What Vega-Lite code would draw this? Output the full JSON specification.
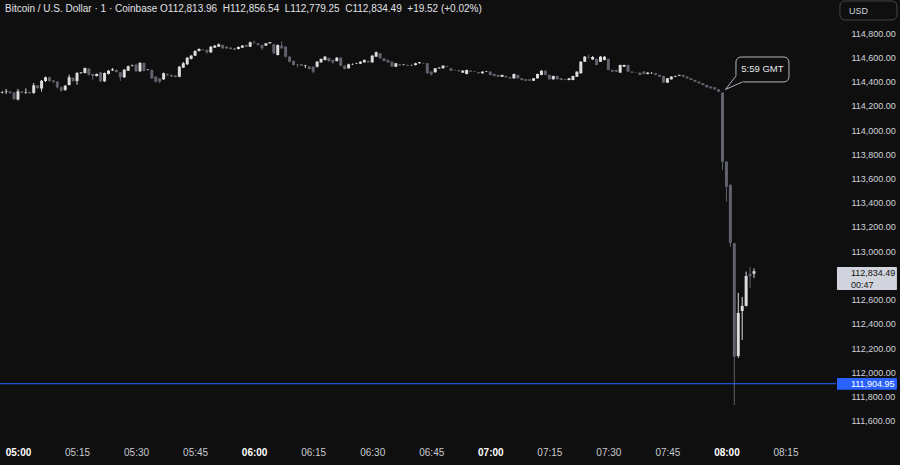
{
"$schema":"https://vega.github.io/schema/vega-lite/v6.json",
"width":836,"height":440,
"autosize":{"type":"none"},
"padding":{"left":0,"top":0,"right":64,"bottom":25},
"background":"#0f0f0f",
"config":{"view":{"stroke":null},"font":"Liberation Sans","scale":{"continuousPadding":0}},
"title":{"text":"Bitcoin / U.S. Dollar · 1 · Coinbase\u00a0O112,813.96\u00a0\u00a0H112,856.54\u00a0\u00a0L112,779.25\u00a0\u00a0C112,834.49\u00a0\u00a0+19.52 (+0.02%)","anchor":"start","frame":"group","orient":"top","offset":-14,"dx":5,"fontSize":10,"fontWeight":"normal","color":"#e0e2e8","font":"Liberation Sans"},
"data":{"values":[
{"time":"04:56","o":114311,"h":114323,"l":114303,"c":114315},
{"time":"04:57","o":114315,"h":114340,"l":114299,"c":114319},
{"time":"04:58","o":114319,"h":114323,"l":114299,"c":114307},
{"time":"04:59","o":114311,"h":114315,"l":114249,"c":114257},
{"time":"05:00","o":114253,"h":114340,"l":114245,"c":114321},
{"time":"05:01","o":114319,"h":114323,"l":114303,"c":114311},
{"time":"05:02","o":114311,"h":114344,"l":114299,"c":114315},
{"time":"05:03","o":114315,"h":114319,"l":114299,"c":114307},
{"time":"05:04","o":114307,"h":114389,"l":114299,"c":114370},
{"time":"05:05","o":114369,"h":114373,"l":114340,"c":114348},
{"time":"05:06","o":114344,"h":114414,"l":114319,"c":114408},
{"time":"05:07","o":114406,"h":114443,"l":114398,"c":114437},
{"time":"05:08","o":114437,"h":114441,"l":114398,"c":114406},
{"time":"05:09","o":114410,"h":114414,"l":114389,"c":114398},
{"time":"05:10","o":114400,"h":114406,"l":114344,"c":114354},
{"time":"05:11","o":114354,"h":114361,"l":114319,"c":114326},
{"time":"05:12","o":114332,"h":114373,"l":114323,"c":114367},
{"time":"05:13","o":114373,"h":114458,"l":114369,"c":114437},
{"time":"05:14","o":114432,"h":114439,"l":114398,"c":114406},
{"time":"05:15","o":114406,"h":114480,"l":114375,"c":114472},
{"time":"05:16","o":114472,"h":114480,"l":114464,"c":114476},
{"time":"05:17","o":114472,"h":114517,"l":114468,"c":114513},
{"time":"05:18","o":114508,"h":114513,"l":114451,"c":114458},
{"time":"05:19","o":114464,"h":114468,"l":114417,"c":114447},
{"time":"05:20","o":114447,"h":114468,"l":114443,"c":114464},
{"time":"05:21","o":114478,"h":114480,"l":114398,"c":114403},
{"time":"05:22","o":114403,"h":114476,"l":114398,"c":114472},
{"time":"05:23","o":114464,"h":114497,"l":114460,"c":114491},
{"time":"05:24","o":114493,"h":114513,"l":114489,"c":114501},
{"time":"05:25","o":114497,"h":114501,"l":114476,"c":114480},
{"time":"05:26","o":114478,"h":114480,"l":114406,"c":114437},
{"time":"05:27","o":114437,"h":114505,"l":114431,"c":114499},
{"time":"05:28","o":114491,"h":114534,"l":114489,"c":114527},
{"time":"05:29","o":114530,"h":114542,"l":114526,"c":114534},
{"time":"05:30","o":114541,"h":114551,"l":114480,"c":114486},
{"time":"05:31","o":114486,"h":114563,"l":114480,"c":114555},
{"time":"05:32","o":114555,"h":114559,"l":114484,"c":114491},
{"time":"05:33","o":114497,"h":114505,"l":114493,"c":114499},
{"time":"05:34","o":114497,"h":114501,"l":114422,"c":114428},
{"time":"05:35","o":114441,"h":114447,"l":114394,"c":114400},
{"time":"05:36","o":114428,"h":114431,"l":114387,"c":114400},
{"time":"05:37","o":114420,"h":114476,"l":114414,"c":114470},
{"time":"05:38","o":114461,"h":114468,"l":114447,"c":114453},
{"time":"05:39","o":114455,"h":114460,"l":114439,"c":114443},
{"time":"05:40","o":114450,"h":114455,"l":114435,"c":114439},
{"time":"05:41","o":114441,"h":114530,"l":114437,"c":114524},
{"time":"05:42","o":114516,"h":114563,"l":114513,"c":114552},
{"time":"05:43","o":114544,"h":114604,"l":114538,"c":114598},
{"time":"05:44","o":114588,"h":114621,"l":114584,"c":114615},
{"time":"05:45","o":114615,"h":114658,"l":114612,"c":114654},
{"time":"05:46","o":114654,"h":114676,"l":114650,"c":114670},
{"time":"05:47","o":114666,"h":114670,"l":114658,"c":114662},
{"time":"05:48","o":114662,"h":114666,"l":114631,"c":114643},
{"time":"05:49","o":114643,"h":114695,"l":114637,"c":114689},
{"time":"05:50","o":114681,"h":114703,"l":114679,"c":114698},
{"time":"05:51","o":114689,"h":114716,"l":114687,"c":114709},
{"time":"05:52","o":114703,"h":114707,"l":114670,"c":114676},
{"time":"05:53","o":114689,"h":114695,"l":114670,"c":114676},
{"time":"05:54","o":114681,"h":114687,"l":114666,"c":114670},
{"time":"05:55","o":114676,"h":114679,"l":114660,"c":114664},
{"time":"05:56","o":114670,"h":114691,"l":114666,"c":114687},
{"time":"05:57","o":114681,"h":114703,"l":114679,"c":114698},
{"time":"05:58","o":114703,"h":114707,"l":114687,"c":114689},
{"time":"05:59","o":114689,"h":114731,"l":114687,"c":114726},
{"time":"06:00","o":114724,"h":114740,"l":114712,"c":114720},
{"time":"06:01","o":114717,"h":114720,"l":114699,"c":114703},
{"time":"06:02","o":114703,"h":114707,"l":114662,"c":114676},
{"time":"06:03","o":114698,"h":114720,"l":114695,"c":114717},
{"time":"06:04","o":114717,"h":114728,"l":114716,"c":114726},
{"time":"06:05","o":114709,"h":114712,"l":114629,"c":114635},
{"time":"06:06","o":114621,"h":114707,"l":114617,"c":114703},
{"time":"06:07","o":114698,"h":114736,"l":114670,"c":114676},
{"time":"06:08","o":114689,"h":114695,"l":114600,"c":114607},
{"time":"06:09","o":114607,"h":114612,"l":114560,"c":114565},
{"time":"06:10","o":114571,"h":114575,"l":114534,"c":114538},
{"time":"06:11","o":114541,"h":114546,"l":114517,"c":114536},
{"time":"06:12","o":114544,"h":114548,"l":114530,"c":114532},
{"time":"06:13","o":114534,"h":114540,"l":114513,"c":114538},
{"time":"06:14","o":114524,"h":114530,"l":114501,"c":114505},
{"time":"06:15","o":114524,"h":114526,"l":114470,"c":114483},
{"time":"06:16","o":114524,"h":114571,"l":114517,"c":114565},
{"time":"06:17","o":114560,"h":114592,"l":114557,"c":114588},
{"time":"06:18","o":114579,"h":114612,"l":114575,"c":114607},
{"time":"06:19","o":114596,"h":114600,"l":114565,"c":114569},
{"time":"06:20","o":114579,"h":114584,"l":114544,"c":114560},
{"time":"06:21","o":114571,"h":114604,"l":114567,"c":114598},
{"time":"06:22","o":114598,"h":114604,"l":114527,"c":114532},
{"time":"06:23","o":114532,"h":114536,"l":114501,"c":114505},
{"time":"06:24","o":114511,"h":114549,"l":114508,"c":114544},
{"time":"06:25","o":114544,"h":114551,"l":114538,"c":114546},
{"time":"06:26","o":114549,"h":114556,"l":114546,"c":114552},
{"time":"06:27","o":114549,"h":114569,"l":114546,"c":114565},
{"time":"06:28","o":114560,"h":114584,"l":114557,"c":114579},
{"time":"06:29","o":114571,"h":114574,"l":114557,"c":114560},
{"time":"06:30","o":114560,"h":114621,"l":114557,"c":114615},
{"time":"06:31","o":114607,"h":114650,"l":114604,"c":114643},
{"time":"06:32","o":114635,"h":114637,"l":114590,"c":114593},
{"time":"06:33","o":114593,"h":114596,"l":114567,"c":114571},
{"time":"06:34","o":114579,"h":114584,"l":114557,"c":114560},
{"time":"06:35","o":114565,"h":114569,"l":114522,"c":114524},
{"time":"06:36","o":114524,"h":114555,"l":114522,"c":114552},
{"time":"06:37","o":114544,"h":114546,"l":114532,"c":114536},
{"time":"06:38","o":114538,"h":114544,"l":114534,"c":114541},
{"time":"06:39","o":114538,"h":114541,"l":114530,"c":114532},
{"time":"06:40","o":114536,"h":114541,"l":114532,"c":114538},
{"time":"06:41","o":114538,"h":114556,"l":114534,"c":114552},
{"time":"06:42","o":114552,"h":114563,"l":114549,"c":114560},
{"time":"06:43","o":114555,"h":114557,"l":114549,"c":114552},
{"time":"06:44","o":114552,"h":114555,"l":114464,"c":114470},
{"time":"06:45","o":114483,"h":114486,"l":114450,"c":114461},
{"time":"06:46","o":114478,"h":114513,"l":114475,"c":114511},
{"time":"06:47","o":114511,"h":114519,"l":114505,"c":114516},
{"time":"06:48","o":114511,"h":114536,"l":114508,"c":114532},
{"time":"06:49","o":114530,"h":114534,"l":114522,"c":114524},
{"time":"06:50","o":114511,"h":114513,"l":114489,"c":114491},
{"time":"06:51","o":114497,"h":114499,"l":114491,"c":114494},
{"time":"06:52","o":114494,"h":114497,"l":114483,"c":114486},
{"time":"06:53","o":114475,"h":114494,"l":114472,"c":114491},
{"time":"06:54","o":114464,"h":114499,"l":114461,"c":114497},
{"time":"06:55","o":114491,"h":114494,"l":114480,"c":114483},
{"time":"06:56","o":114486,"h":114489,"l":114480,"c":114483},
{"time":"06:57","o":114478,"h":114480,"l":114466,"c":114470},
{"time":"06:58","o":114470,"h":114486,"l":114466,"c":114483},
{"time":"06:59","o":114483,"h":114489,"l":114480,"c":114486},
{"time":"07:00","o":114483,"h":114486,"l":114453,"c":114456},
{"time":"07:01","o":114464,"h":114466,"l":114445,"c":114447},
{"time":"07:02","o":114456,"h":114458,"l":114439,"c":114441},
{"time":"07:03","o":114441,"h":114458,"l":114439,"c":114456},
{"time":"07:04","o":114447,"h":114450,"l":114433,"c":114437},
{"time":"07:05","o":114437,"h":114439,"l":114425,"c":114428},
{"time":"07:06","o":114428,"h":114466,"l":114425,"c":114464},
{"time":"07:07","o":114456,"h":114458,"l":114425,"c":114428},
{"time":"07:08","o":114428,"h":114431,"l":114412,"c":114414},
{"time":"07:09","o":114420,"h":114422,"l":114406,"c":114408},
{"time":"07:10","o":114420,"h":114422,"l":114406,"c":114408},
{"time":"07:11","o":114408,"h":114431,"l":114406,"c":114428},
{"time":"07:12","o":114428,"h":114466,"l":114425,"c":114464},
{"time":"07:13","o":114456,"h":114494,"l":114453,"c":114491},
{"time":"07:14","o":114491,"h":114494,"l":114453,"c":114456},
{"time":"07:15","o":114456,"h":114458,"l":114417,"c":114420},
{"time":"07:16","o":114420,"h":114450,"l":114417,"c":114447},
{"time":"07:17","o":114447,"h":114450,"l":114417,"c":114420},
{"time":"07:18","o":114428,"h":114431,"l":114412,"c":114414},
{"time":"07:19","o":114420,"h":114422,"l":114412,"c":114414},
{"time":"07:20","o":114414,"h":114431,"l":114412,"c":114428},
{"time":"07:21","o":114414,"h":114450,"l":114412,"c":114447},
{"time":"07:22","o":114441,"h":114486,"l":114439,"c":114483},
{"time":"07:23","o":114470,"h":114571,"l":114466,"c":114565},
{"time":"07:24","o":114565,"h":114612,"l":114563,"c":114607},
{"time":"07:25","o":114604,"h":114625,"l":114592,"c":114600},
{"time":"07:26","o":114584,"h":114612,"l":114579,"c":114604},
{"time":"07:27","o":114588,"h":114592,"l":114536,"c":114538},
{"time":"07:28","o":114565,"h":114612,"l":114563,"c":114607},
{"time":"07:29","o":114579,"h":114610,"l":114577,"c":114607},
{"time":"07:30","o":114588,"h":114590,"l":114494,"c":114497},
{"time":"07:31","o":114497,"h":114499,"l":114480,"c":114483},
{"time":"07:32","o":114497,"h":114499,"l":114480,"c":114483},
{"time":"07:33","o":114475,"h":114541,"l":114472,"c":114538},
{"time":"07:34","o":114524,"h":114541,"l":114522,"c":114538},
{"time":"07:35","o":114538,"h":114541,"l":114480,"c":114483},
{"time":"07:36","o":114483,"h":114486,"l":114472,"c":114475},
{"time":"07:37","o":114475,"h":114478,"l":114470,"c":114474},
{"time":"07:38","o":114475,"h":114478,"l":114453,"c":114456},
{"time":"07:39","o":114483,"h":114489,"l":114461,"c":114464},
{"time":"07:40","o":114464,"h":114478,"l":114461,"c":114475},
{"time":"07:41","o":114470,"h":114480,"l":114464,"c":114471},
{"time":"07:42","o":114470,"h":114472,"l":114453,"c":114456},
{"time":"07:43","o":114456,"h":114458,"l":114439,"c":114441},
{"time":"07:44","o":114447,"h":114450,"l":114389,"c":114392},
{"time":"07:45","o":114392,"h":114431,"l":114389,"c":114428},
{"time":"07:46","o":114420,"h":114445,"l":114417,"c":114441},
{"time":"07:47","o":114441,"h":114450,"l":114439,"c":114447},
{"time":"07:48","o":114450,"h":114458,"l":114447,"c":114456},
{"time":"07:49","o":114456,"h":114458,"l":114439,"c":114441},
{"time":"07:50","o":114441,"h":114445,"l":114425,"c":114428},
{"time":"07:51","o":114428,"h":114431,"l":114412,"c":114414},
{"time":"07:52","o":114414,"h":114417,"l":114398,"c":114400},
{"time":"07:53","o":114400,"h":114403,"l":114384,"c":114387},
{"time":"07:54","o":114387,"h":114389,"l":114370,"c":114373},
{"time":"07:55","o":114373,"h":114375,"l":114351,"c":114354},
{"time":"07:56","o":114359,"h":114362,"l":114342,"c":114346},
{"time":"07:57","o":114354,"h":114356,"l":114334,"c":114337},
{"time":"07:58","o":114337,"h":114340,"l":114315,"c":114318},
{"time":"07:59","o":114309,"h":114313,"l":113671,"c":113739},
{"time":"08:00","o":113739,"h":113745,"l":113409,"c":113533},
{"time":"08:01","o":113547,"h":113555,"l":113037,"c":113068},
{"time":"08:02","o":113065,"h":113068,"l":111730,"c":112129},
{"time":"08:03","o":112134,"h":112655,"l":112118,"c":112490},
{"time":"08:04","o":112506,"h":112622,"l":112267,"c":112548},
{"time":"08:05","o":112548,"h":112831,"l":112543,"c":112795},
{"time":"08:06","o":112812,"h":112870,"l":112696,"c":112795},
{"time":"08:07","o":112813.96,"h":112856.54,"l":112779.25,"c":112834.49}
],"format":{"parse":{"time":"utc:'%H:%M'"}}},
"layer":[
{"mark":{"type":"rule","strokeWidth":1},
 "encoding":{
  "x":{"field":"time","type":"temporal",
   "scale":{"type":"utc","padding":0,"domain":[{"year":1900,"month":1,"date":1,"hours":4,"minutes":55,"seconds":26,"utc":true},{"year":1900,"month":1,"date":1,"hours":8,"minutes":27,"seconds":50,"utc":true}]},
   "axis":{"title":null,"domain":false,"ticks":false,"grid":false,"labelPadding":7,"labelFontSize":10,"labelFont":"Liberation Sans","labelOverlap":false,"tickCount":30,
    "labelExpr":"utcFormat(datum.value, '%H:%M')",
    "labelColor":{"condition":{"test":"utcminutes(datum.value) == 0","value":"#ffffff"},"value":"#c8cad0"},
    "labelFontWeight":{"condition":{"test":"utcminutes(datum.value) == 0","value":"bold"},"value":"normal"},
    "values":[
     {"year":1900,"month":1,"date":1,"hours":5,"minutes":0,"utc":true},
     {"year":1900,"month":1,"date":1,"hours":5,"minutes":15,"utc":true},
     {"year":1900,"month":1,"date":1,"hours":5,"minutes":30,"utc":true},
     {"year":1900,"month":1,"date":1,"hours":5,"minutes":45,"utc":true},
     {"year":1900,"month":1,"date":1,"hours":6,"minutes":0,"utc":true},
     {"year":1900,"month":1,"date":1,"hours":6,"minutes":15,"utc":true},
     {"year":1900,"month":1,"date":1,"hours":6,"minutes":30,"utc":true},
     {"year":1900,"month":1,"date":1,"hours":6,"minutes":45,"utc":true},
     {"year":1900,"month":1,"date":1,"hours":7,"minutes":0,"utc":true},
     {"year":1900,"month":1,"date":1,"hours":7,"minutes":15,"utc":true},
     {"year":1900,"month":1,"date":1,"hours":7,"minutes":30,"utc":true},
     {"year":1900,"month":1,"date":1,"hours":7,"minutes":45,"utc":true},
     {"year":1900,"month":1,"date":1,"hours":8,"minutes":0,"utc":true},
     {"year":1900,"month":1,"date":1,"hours":8,"minutes":15,"utc":true}]}},
  "y":{"field":"l","type":"quantitative",
   "scale":{"domain":[111440,115075],"zero":false,"nice":false,"padding":0},
   "axis":{"orient":"right","title":null,"domain":false,"ticks":false,"grid":false,"labelPadding":15,"labelFontSize":9,"labelFont":"Liberation Sans","labelColor":"#d1d4dc","format":",.2f","labelOverlap":false,"tickCount":30,
    "values":[111600,111800,112000,112200,112400,112600,113000,113200,113400,113600,113800,114000,114200,114400,114600,114800]}},
  "y2":{"field":"h"},
  "color":{"condition":{"test":"datum.c >= datum.o","value":"#dcdcdc"},"value":"#60636d"}}},
{"mark":{"type":"bar","size":3},
 "encoding":{
  "x":{"field":"time","type":"temporal"},
  "y":{"field":"o","type":"quantitative"},
  "y2":{"field":"c"},
  "color":{"condition":{"test":"datum.c >= datum.o","value":"#dcdcdc"},"value":"#60636d"}}},
{"data":{"values":[{"price":111904.95}]},
 "mark":{"type":"rule","color":"#2962ff","strokeWidth":1},
 "encoding":{"y":{"field":"price","type":"quantitative"}}},
{"data":{"values":[
  {"kind":"callout","t1":"08:02:25","t2":"08:15:53","p1":114604,"p2":114398},
  {"kind":"usd","t1":"08:28:50","t2":"08:43:19","p1":115067,"p2":114910}],"format":{"parse":{"t1":"utc:'%H:%M:%S'","t2":"utc:'%H:%M:%S'"}}},
 "mark":{"type":"rect","fill":"#0f0f0f","strokeWidth":1,"cornerRadius":5},
 "encoding":{"x":{"field":"t1","type":"temporal"},"x2":{"field":"t2"},"y":{"field":"p1","type":"quantitative"},"y2":{"field":"p2"},
  "stroke":{"condition":{"test":"datum.kind == 'usd'","value":"#434651"},"value":"#b2b5be"}}},
{"data":{"values":[{"t1":"08:02:02","t2":"08:04:12","p1":114451,"p2":114385}],"format":{"parse":{"t1":"utc:'%H:%M:%S'","t2":"utc:'%H:%M:%S'"}}},
 "mark":{"type":"rect","fill":"#0f0f0f","strokeWidth":0},
 "encoding":{"x":{"field":"t1","type":"temporal"},"x2":{"field":"t2"},"y":{"field":"p1","type":"quantitative"},"y2":{"field":"p2"}}},
{"data":{"values":[
  {"i":1,"time":"08:02:25","price":114447},
  {"i":2,"time":"07:59:45","price":114336},
  {"i":3,"time":"08:04:04","price":114398}],"format":{"parse":{"time":"utc:'%H:%M:%S'"}}},
 "mark":{"type":"line","color":"#b2b5be","strokeWidth":1},
 "encoding":{"x":{"field":"time","type":"temporal"},"y":{"field":"price","type":"quantitative"},"order":{"field":"i"}}},
{"data":{"values":[
  {"kind":"price","t1":"08:28:05","t2":"08:43:19","p1":112870,"p2":112680},
  {"kind":"line","t1":"08:28:05","t2":"08:43:19","p1":111953,"p2":111856}],"format":{"parse":{"t1":"utc:'%H:%M:%S'","t2":"utc:'%H:%M:%S'"}}},
 "mark":{"type":"rect","cornerRadius":1},
 "encoding":{"x":{"field":"t1","type":"temporal"},"x2":{"field":"t2"},"y":{"field":"p1","type":"quantitative"},"y2":{"field":"p2"},
  "color":{"condition":{"test":"datum.kind == 'price'","value":"#d1d4dc"},"value":"#2962ff"}}},
{"data":{"values":[
  {"label":"5:59 GMT","time":"08:09:09","price":114501}],"format":{"parse":{"time":"utc:'%H:%M:%S'"}}},
 "mark":{"type":"text","fontSize":9.5,"font":"Liberation Sans","baseline":"middle","align":"center","color":"#e8e9ec"},
 "encoding":{"x":{"field":"time","type":"temporal"},"y":{"field":"price","type":"quantitative"},"text":{"field":"label"}}},
{"data":{"values":[
  {"label":"USD","time":"08:31:08","price":114988,"col":"#d1d4dc"},
  {"label":"112,834.49","time":"08:31:37","price":112816,"col":"#131313"},
  {"label":"00:47","time":"08:31:37","price":112717,"col":"#131313"},
  {"label":"111,904.95","time":"08:31:37","price":111904.95,"col":"#ffffff"}],"format":{"parse":{"time":"utc:'%H:%M:%S'"}}},
 "mark":{"type":"text","fontSize":9,"font":"Liberation Sans","baseline":"middle","align":"left"},
 "encoding":{"x":{"field":"time","type":"temporal"},"y":{"field":"price","type":"quantitative"},"text":{"field":"label"},
  "color":{"field":"col","type":"nominal","scale":null}}}
]
}
